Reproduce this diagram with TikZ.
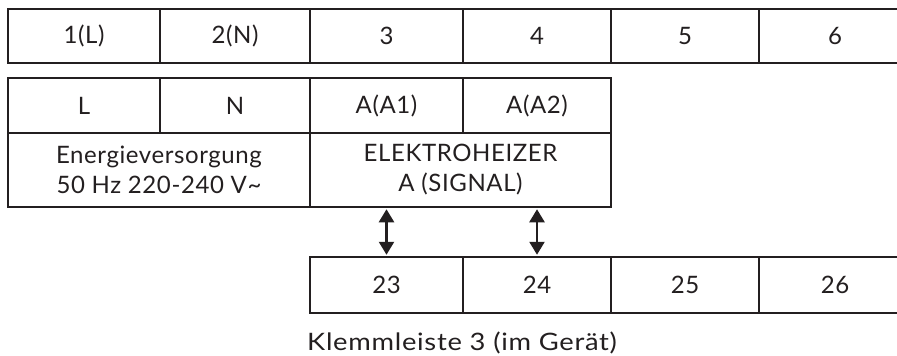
\documentclass[tikz,border=0pt]{standalone}
\usepackage{fontspec}
\setmainfont[LetterSpace=2.5]{Lato}
\newfontfamily\capfont[LetterSpace=3,FakeStretch=1.14]{Lato}
\usetikzlibrary{arrows.meta}
\definecolor{ink}{HTML}{231F20}
\tikzset{
  cell/.style={draw=ink, line width=2.5pt, rectangle, inner sep=0pt, text=ink,
    font=\fontsize{24}{30}\selectfont, align=center},
  biarrow/.style={draw=ink, line width=2.5pt, {Triangle[length=13pt,width=15pt]}-{Triangle[length=13pt,width=15pt]}, shorten <=1pt, shorten >=1pt},
}
\begin{document}
\begin{tikzpicture}[x=1pt,y=-1pt]
\useasboundingbox (0,0) rectangle (897,356);
\clip (0,0) rectangle (897,356);
% top terminal row
\node[cell, minimum width=152pt, minimum height=54pt] (t1) at (84,36) {1(L)};
\node[cell, minimum width=150pt, minimum height=54pt] (t2) at (235,36) {2(N)};
\node[cell, minimum width=153pt, minimum height=54pt] (t3) at (386.5,36) {3};
\node[cell, minimum width=148pt, minimum height=54pt] (t4) at (537,36) {4};
\node[cell, minimum width=148pt, minimum height=54pt] (t5) at (685,36) {5};
\node[cell, minimum width=152pt, minimum height=54pt] (t6) at (835,36) {6};
% function block
\node[cell, minimum width=152pt, minimum height=55pt] (bL) at (84,105.5) {L};
\node[cell, minimum width=150pt, minimum height=55pt] (bN) at (235,105.5) {N};
\node[cell, minimum width=153pt, minimum height=55pt] (bA1) at (386.5,105.5) {A(A1)};
\node[cell, minimum width=148pt, minimum height=55pt] (bA2) at (537,105.5) {A(A2)};
\node[cell, minimum width=302pt, minimum height=74pt] (pow) at (159,170) {Energieversorgung\\50 Hz 220-240 V\char"007E};
\node[cell, minimum width=301pt, minimum height=74pt] (heat) at (460.5,170) {ELEKTROHEIZER\\A (SIGNAL)};
% bottom terminal row
\node[cell, minimum width=153pt, minimum height=56pt] (c23) at (386.5,285) {23};
\node[cell, minimum width=148pt, minimum height=56pt] (c24) at (537,285) {24};
\node[cell, minimum width=148pt, minimum height=56pt] (c25) at (685,285) {25};
\node[cell, minimum width=152pt, minimum height=56pt] (c26) at (835,285) {26};
% arrows
\draw[biarrow] (c23.north) -- (c23.north |- heat.south);
\draw[biarrow] (c24.north) -- (c24.north |- heat.south);
% caption
\node[anchor=base west, inner sep=0pt, text=ink, font=\capfont\fontsize{24}{28}\selectfont] (cap) at (307,350) {Klemmleiste 3 (im Gerät)};
\end{tikzpicture}
\end{document}
